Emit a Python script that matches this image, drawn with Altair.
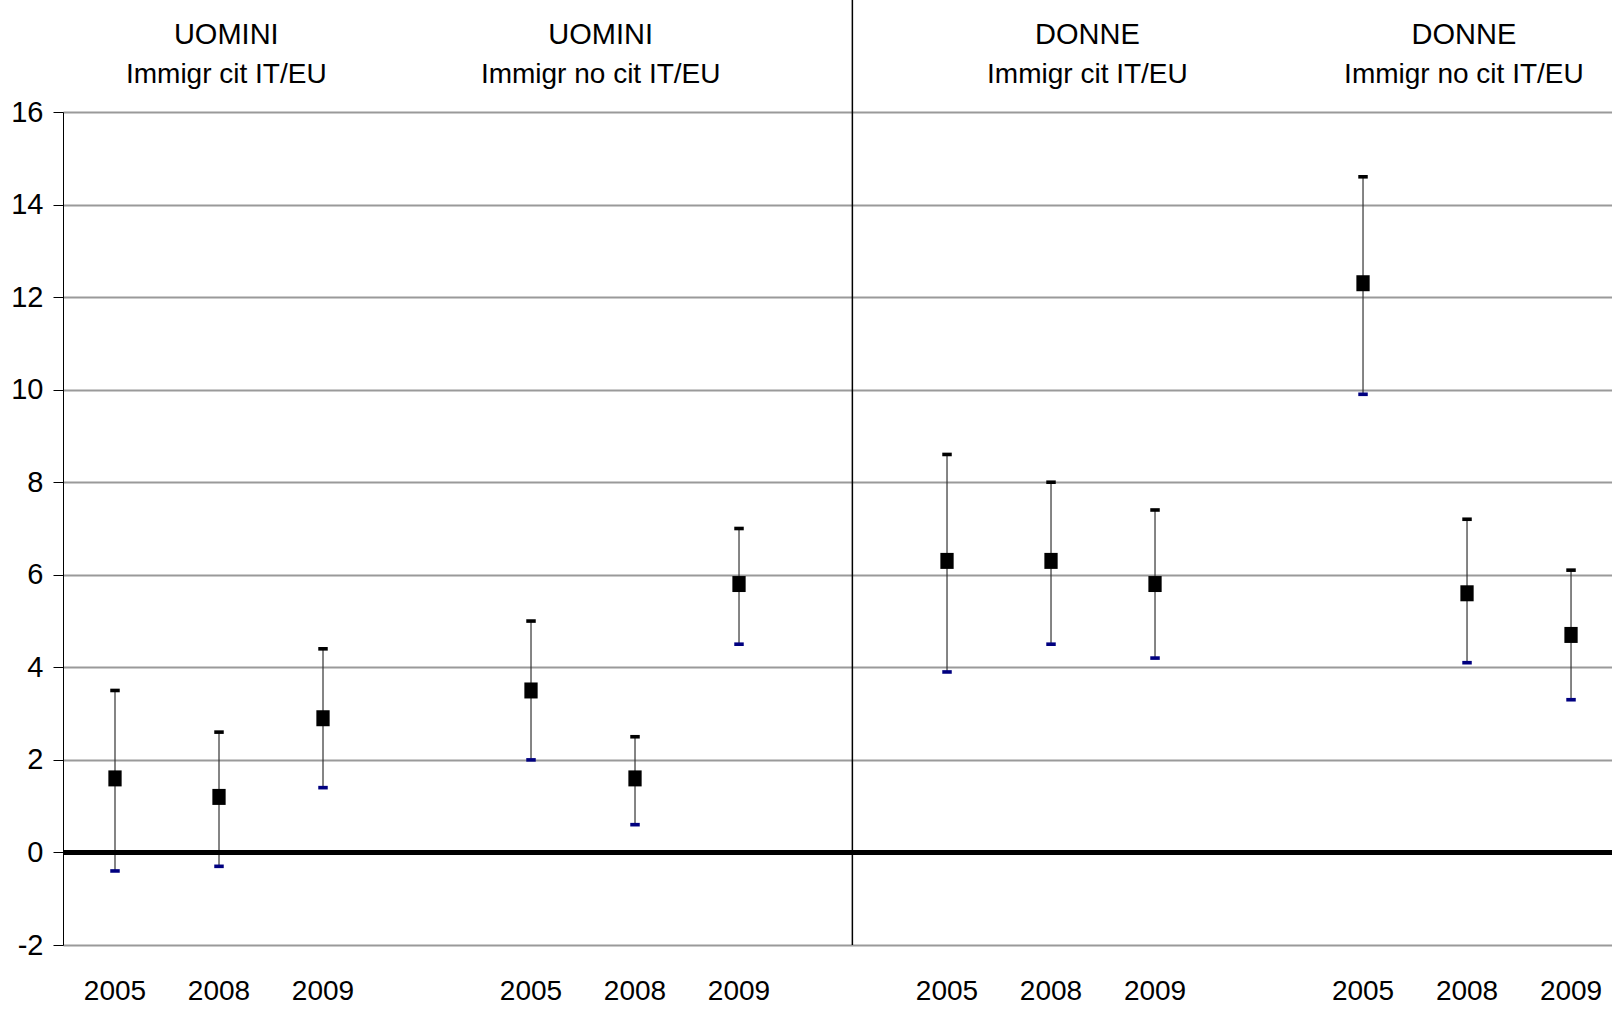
import altair as alt
import pandas as pd

# ---- data ----
group_titles = ["UOMINI", "UOMINI", "DONNE", "DONNE"]
group_subtitles = ["Immigr cit IT/EU", "Immigr no cit IT/EU", "Immigr cit IT/EU", "Immigr no cit IT/EU"]
years = ["2005", "2008", "2009"]

estimate = [1.6, 1.2, 2.9,   3.5, 1.6, 5.8,   6.3, 6.3, 5.8,   12.3, 5.6, 4.7]
upper    = [3.5, 2.6, 4.4,   5.0, 2.5, 7.0,   8.6, 8.0, 7.4,   14.6, 7.2, 6.1]
lower    = [-0.4, -0.3, 1.4, 2.0, 0.6, 4.5,   3.9, 4.5, 4.2,   9.9, 4.1, 3.3]

# header anchor (in category-slot units) and divider between men / women
header_pos = [1.07, 4.67, 9.35, 12.97]
divider_pos = 7.09

rows = []
for g in range(4):
    for j, yr in enumerate(years):
        k = g * 3 + j
        rows.append({"slot": g * 4 + j, "year": yr, "est": estimate[k],
                     "hi": upper[k], "lo": lower[k]})
df = pd.DataFrame(rows)
hdr = pd.DataFrame({"pos": header_pos, "t1": group_titles, "t2": group_subtitles})

FONT = "Liberation Sans Narrow, Arial Narrow, Liberation Sans, Arial"
W, H = 1549, 833
XDOM = [-0.5, 14.394]

xs = alt.X("slot:Q", scale=alt.Scale(domain=XDOM, nice=False, zero=False), axis=None)
ys = alt.Scale(domain=[-2, 16], nice=False, zero=False)

base = alt.Chart(df)

grid_axis = alt.Axis(values=list(range(-2, 17, 2)), grid=True, gridColor="#9a9a9a", gridWidth=2,
                     domain=True, domainColor="black", domainWidth=1,
                     ticks=True, tickColor="black", tickSize=10, tickWidth=1,
                     labelFontSize=29, labelFont=FONT, labelColor="black", labelPadding=10,
                     labelExpr="datum.value", title=None)

whisk = base.mark_rule(color="#333", strokeWidth=1.2).encode(
    x=xs, y=alt.Y("lo:Q", scale=ys, axis=grid_axis), y2="hi:Q")

zero = alt.Chart(pd.DataFrame({"z": [0]})).mark_rule(color="black", strokeWidth=5).encode(
    y=alt.Y("z:Q", scale=ys))

cap_shape = "M-1,-0.38H1V0.38H-1Z"
cap_hi = base.mark_point(shape=cap_shape, size=90, filled=True, color="black", opacity=1).encode(
    x=xs, y=alt.Y("hi:Q", scale=ys))
cap_lo = base.mark_point(shape=cap_shape, size=90, filled=True, color="#000080", opacity=1).encode(
    x=xs, y=alt.Y("lo:Q", scale=ys))

pts = base.mark_point(shape="M-0.83,-1H0.83V1H-0.83Z", size=256, filled=True,
                      color="black", opacity=1).encode(
    x=xs, y=alt.Y("est:Q", scale=ys))

divider = alt.Chart(pd.DataFrame({"d": [divider_pos]})).mark_rule(color="black", strokeWidth=1.5).encode(
    x=alt.X("d:Q", scale=alt.Scale(domain=XDOM, nice=False, zero=False), axis=None),
    y=alt.value(-112), y2=alt.value(H))

year_txt = base.mark_text(fontSize=28, font=FONT, color="black", baseline="alphabetic",
                          align="center").encode(x=xs, y=alt.value(888), text="year:N")

hx = alt.X("pos:Q", scale=alt.Scale(domain=XDOM, nice=False, zero=False), axis=None)
h1 = alt.Chart(hdr).mark_text(fontSize=29, font=FONT, color="black", baseline="alphabetic",
                              align="center").encode(x=hx, y=alt.value(44 - 112), text="t1:N")
h2 = alt.Chart(hdr).mark_text(fontSize=28, font=FONT, color="black", baseline="alphabetic",
                              align="center").encode(x=hx, y=alt.value(83 - 112), text="t2:N")

chart = alt.layer(whisk, zero, divider, cap_hi, cap_lo, pts, year_txt, h1, h2).properties(
    width=W, height=H,
    autosize=alt.AutoSizeParams(type="none"),
    padding={"left": 63, "top": 112, "right": 0, "bottom": 65},
    background="white",
).configure_view(stroke=None)

chart.save("out.html", embed_options={"renderer": "svg", "actions": False})
